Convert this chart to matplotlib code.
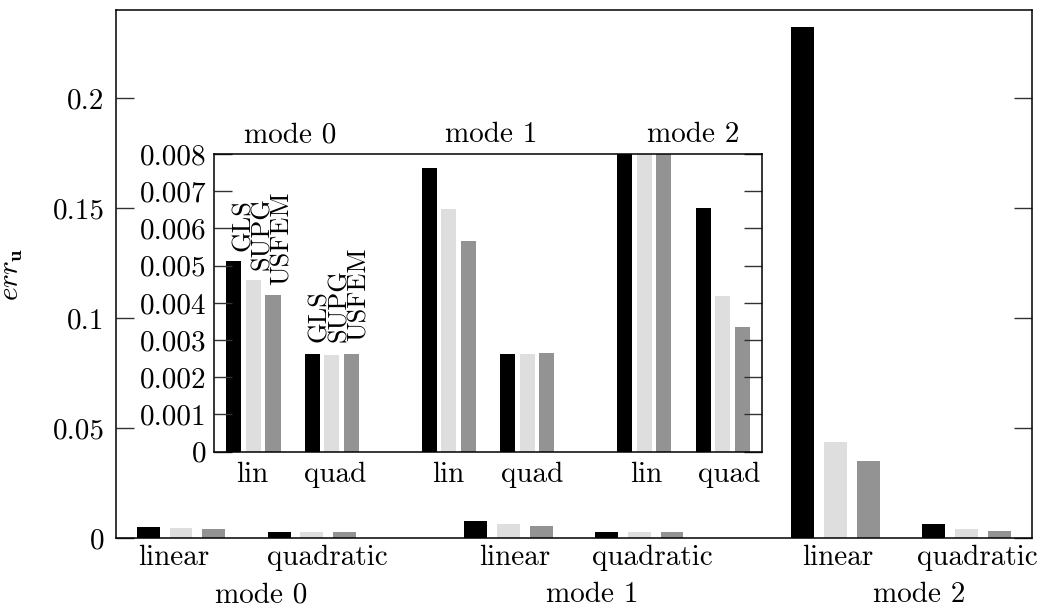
import numpy as np
import matplotlib
matplotlib.use("Agg")
import matplotlib.pyplot as plt

plt.rcParams['font.family'] = ['cmr10', 'DejaVu Serif']
plt.rcParams['mathtext.fontset'] = 'cm'
plt.rcParams['axes.formatter.use_mathtext'] = True

# dane
modes = ['mode 0', 'mode 1', 'mode 2']
orders_main = ['linear', 'quadratic']
orders_inset = ['lin', 'quad']
methods = ['GLS', 'SUPG', 'USFEM']
gls = [0.00513, 0.00262, 0.00762, 0.00263, 0.2326, 0.00656]
supg = [0.00461, 0.00261, 0.00651, 0.00263, 0.0435, 0.00419]
usfem = [0.00421, 0.00263, 0.00565, 0.00265, 0.0350, 0.00336]
main_yticks = [0, 0.05, 0.1, 0.15, 0.2]
main_ylabels = ['0', '0.05', '0.1', '0.15', '0.2']
inset_yticks = [0, 0.001, 0.002, 0.003, 0.004, 0.005, 0.006, 0.007, 0.008]
inset_ylabels = ['0', '0.001', '0.002', '0.003', '0.004', '0.005', '0.006', '0.007', '0.008']

colors = ['#000000', '#dedede', '#939393']
series = [gls, supg, usfem]
FS = 21

# pozycje slupkow
base = np.array([10 * (g // 2) + 4 * (g % 2) for g in range(6)], dtype=float)
main_label_x = [0.79, 5.47, 11.19, 15.41, 21.06, 25.34]
inset_label_x = [0.93, 5.18, 10.98, 15.26, 21.08, 25.36]
main_mode_x = [3.44, 13.57, 23.54]
inset_mode_x = [2.9, 13.16, 23.5]

fig = plt.figure(figsize=(10.41, 6.09), dpi=100)
ax = fig.add_axes([0.111, 0.1166, 0.8804, 0.867])

for k, vals in enumerate(series):
    ax.bar(base + k, vals, width=0.7, color=colors[k], edgecolor='none')

ax.set_xlim(-1, 27)
ax.set_ylim(0, 0.2402)
ax.set_yticks(main_yticks)
ax.set_yticklabels(main_ylabels, fontsize=FS)
ax.tick_params(axis='y', direction='in', length=13, width=1, pad=8,
               left=True, right=True, color='#333333')
ax.set_xticks(main_label_x)
ax.set_xticklabels(orders_main * 3, fontsize=FS)
ax.tick_params(axis='x', length=0, pad=5)
ax.set_ylabel(r'$err_{\mathbf{u}}$', fontsize=FS, labelpad=20)
for s in ax.spines.values():
    s.set_linewidth(1.1)
for i, m in enumerate(modes):
    ax.text(main_mode_x[i], -0.083, m, transform=ax.get_xaxis_transform(),
            ha='center', va='top', fontsize=FS)

# wstawka
axi = fig.add_axes([0.2059, 0.2583, 0.5258, 0.4888])
for k, vals in enumerate(series):
    axi.bar(base + k, vals, width=0.77, color=colors[k], edgecolor='none')

axi.set_xlim(-1, 27)
axi.set_ylim(0, 0.008)
axi.set_yticks(inset_yticks)
axi.set_yticklabels(inset_ylabels, fontsize=FS)
axi.tick_params(axis='y', direction='in', length=13, width=1, pad=6,
                left=True, right=True, color='#333333')
axi.set_xticks(inset_label_x)
axi.set_xticklabels(orders_inset * 3, fontsize=FS)
axi.tick_params(axis='x', length=0, pad=7)
for s in axi.spines.values():
    s.set_linewidth(1.1)
for i, m in enumerate(modes):
    axi.text(inset_mode_x[i], 1.04, m, transform=axi.get_xaxis_transform(),
             ha='center', va='baseline', fontsize=FS)

# podpisy metod nad slupkami mode 0 (kotwica w linii bazowej tekstu)
for g, dx, dy in [(0, 0.8, 0.00026), (1, 0.73, 0.00034)]:
    for k, vals in enumerate(series):
        axi.text(base[g] + k + dx, vals[g] + dy, methods[k], rotation=90,
                 rotation_mode='anchor', ha='left', va='baseline', fontsize=19)

fig.savefig('out.png', dpi=100)
